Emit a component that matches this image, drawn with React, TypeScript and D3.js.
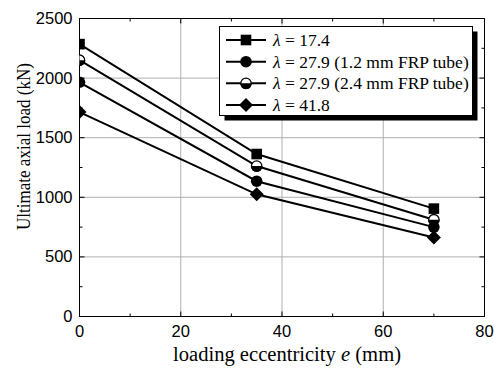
import React from "react";
import * as d3 from "d3";

const eccentricity = [0, 35, 70];
const seriesNames = ["17.4", "27.9 (1.2 mm FRP tube)", "27.9 (2.4 mm FRP tube)", "41.8"];
const markers = ["square", "circle", "halfcircle", "diamond"];
const sq174 = [2285, 1363, 905];
const c279a = [1965, 1135, 750];
const c279b = [2150, 1262, 812];
const d418 = [1715, 1025, 662];
const seriesValues = [sq174, c279a, c279b, d418];
const xTicks = [0, 20, 40, 60, 80];
const xMinor = [10, 30, 50, 70];
const yTicks = [0, 500, 1000, 1500, 2000, 2500];
const yMinor = [250, 750, 1250, 1750, 2250];

const W = 494, H = 369;
const L = 79.5, R = 484.5, T = 18.5, B = 316.5;
const SERIF = "Liberation Serif, Times New Roman, serif";
const SANS = "Liberation Sans, Arial, sans-serif";

function Marker({ type, x, y }: { type: string; x: number; y: number }) {
  const s = 5.8;
  if (type === "square") return <rect x={x - 5.3} y={y - 5.3} width={10.6} height={10.6} fill="black" />;
  if (type === "circle") return <circle cx={x} cy={y} r={s} fill="black" />;
  if (type === "halfcircle")
    return (
      <g>
        <circle cx={x} cy={y} r={s - 0.6} fill="white" stroke="black" strokeWidth={1.3} />
        <path d={`M${x - s},${y} A${s},${s} 0 0 0 ${x + s},${y} Z`} fill="black" />
      </g>
    );
  return <path d={`M${x},${y - 7} L${x + 7},${y} L${x},${y + 7} L${x - 7},${y} Z`} fill="black" />;
}

export default function App() {
  const x = d3.scaleLinear().domain([0, 80]).range([L, R]);
  const y = d3.scaleLinear().domain([0, 2500]).range([B, T]);
  const line = d3.line<number>().x((_, i) => x(eccentricity[i])).y((d) => y(d));
  const lx = 219.5, ly = 26.5, lw = 253, lh = 89;
  const rows = [40, 61.7, 83.3, 105];
  return (
    <svg width={W} height={H} style={{ position: "absolute", left: 0, top: 0 }}>
      <rect width={W} height={H} fill="white" />
      <defs>
        <clipPath id="plot">
          <rect x={L} y={T} width={R - L} height={B - T} />
        </clipPath>
      </defs>
      {xTicks.slice(1, -1).map((t) => (
        <line key={"gx" + t} x1={x(t)} x2={x(t)} y1={T} y2={B} stroke="#b0b0b0" strokeWidth={1} />
      ))}
      {yTicks.slice(1, -1).map((t) => (
        <line key={"gy" + t} x1={L} x2={R} y1={y(t)} y2={y(t)} stroke="#b0b0b0" strokeWidth={1} />
      ))}
      <rect x={L} y={T} width={R - L} height={B - T} fill="none" stroke="black" strokeWidth={1} />
      {xTicks.map((t) => (
        <g key={"tx" + t}>
          <line x1={x(t)} x2={x(t)} y1={B} y2={B - 5} stroke="black" />
          <line x1={x(t)} x2={x(t)} y1={T} y2={T + 5} stroke="black" />
        </g>
      ))}
      {xMinor.map((t) => (
        <g key={"mx" + t}>
          <line x1={x(t)} x2={x(t)} y1={B} y2={B - 3} stroke="black" />
          <line x1={x(t)} x2={x(t)} y1={T} y2={T + 3} stroke="black" />
        </g>
      ))}
      {yTicks.map((t) => (
        <g key={"ty" + t}>
          <line x1={L} x2={L + 5} y1={y(t)} y2={y(t)} stroke="black" />
          <line x1={R} x2={R - 5} y1={y(t)} y2={y(t)} stroke="black" />
        </g>
      ))}
      {yMinor.map((t) => (
        <g key={"my" + t}>
          <line x1={L} x2={L + 3} y1={y(t)} y2={y(t)} stroke="black" />
          <line x1={R} x2={R - 3} y1={y(t)} y2={y(t)} stroke="black" />
        </g>
      ))}
      <g clipPath="url(#plot)">
        {seriesValues.map((vals, i) => (
          <path key={"l" + i} d={line(vals) || ""} fill="none" stroke="black" strokeWidth={2} />
        ))}
        {seriesValues.map((vals, i) =>
          vals.map((v, j) => <Marker key={i + "-" + j} type={markers[i]} x={x(eccentricity[j])} y={y(v)} />)
        )}
      </g>
      <g fontFamily={SANS} fontSize={16.5} fill="black">
        {xTicks.map((t) => (
          <text key={"xl" + t} x={x(t)} y={336.5} textAnchor="middle">{t}</text>
        ))}
        {yTicks.map((t) => (
          <text key={"yl" + t} x={72.5} y={y(t) + 5.5} textAnchor="end">{t}</text>
        ))}
      </g>
      <g fontFamily={SERIF} fill="black">
        <text x={173} y={361} fontSize={20.5} textLength={228} lengthAdjust="spacingAndGlyphs">
          loading eccentricity <tspan fontStyle="italic">e</tspan> (mm)
        </text>
        <text
          transform={`translate(30,230) rotate(-90)`}
          fontSize={18}
          textLength={167}
          lengthAdjust="spacingAndGlyphs"
        >
          Ultimate axial load (kN)
        </text>
      </g>
      <rect x={lx + 5} y={ly + 5} width={lw} height={lh} fill="black" />
      <rect x={lx} y={ly} width={lw} height={lh} fill="white" stroke="black" strokeWidth={1} />
      {seriesNames.map((n, i) => (
        <g key={"lg" + i}>
          <line x1={226} x2={266} y1={rows[i]} y2={rows[i]} stroke="black" strokeWidth={2} />
          <Marker type={markers[i]} x={246} y={rows[i]} />
          <text x={273} y={rows[i] + 6} fontFamily={SERIF} fontSize={17.5}>
            <tspan fontStyle="italic">λ</tspan> = {n}
          </text>
        </g>
      ))}
    </svg>
  );
}
